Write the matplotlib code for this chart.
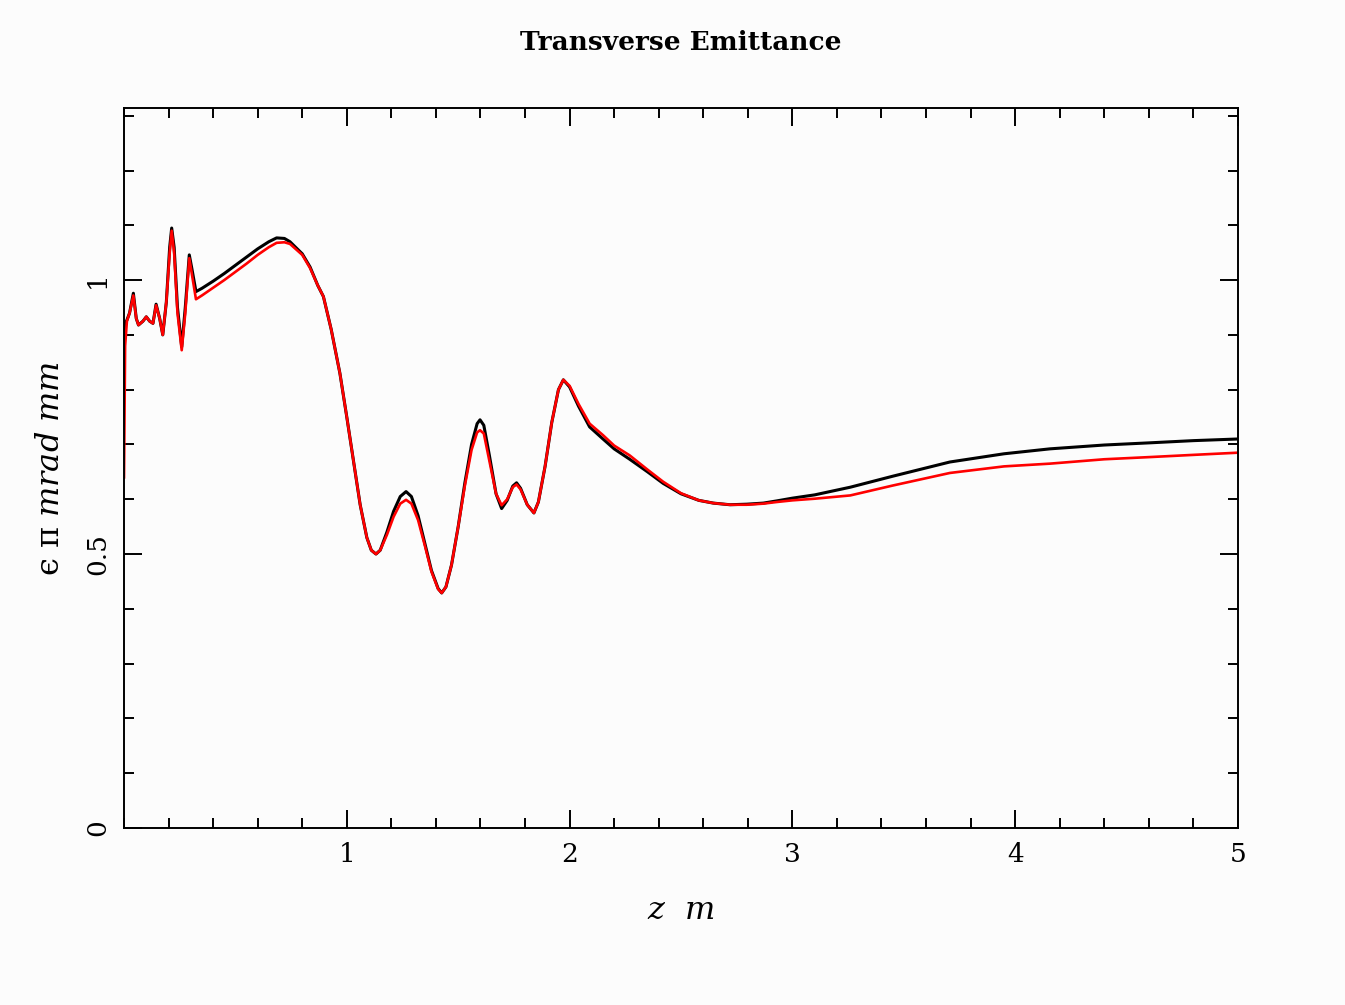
import matplotlib
matplotlib.use('Agg')
import matplotlib.pyplot as plt
from matplotlib.ticker import MultipleLocator

z = [0, 0.005, 0.013, 0.025, 0.042, 0.055, 0.065, 0.085, 0.1, 0.115, 0.13, 0.144,
     0.16, 0.174, 0.19, 0.205, 0.214, 0.225, 0.24, 0.259, 0.275, 0.293, 0.305, 0.323,
     0.35, 0.4, 0.45, 0.5, 0.55, 0.6, 0.65, 0.685, 0.72, 0.745, 0.8, 0.835, 0.87,
     0.895, 0.93, 0.969, 1.0, 1.03, 1.06, 1.09, 1.11, 1.131, 1.15, 1.18, 1.21, 1.24,
     1.266, 1.29, 1.32, 1.35, 1.38, 1.41, 1.426, 1.445, 1.47, 1.5, 1.53, 1.56, 1.585,
     1.598, 1.615, 1.64, 1.67, 1.695, 1.72, 1.745, 1.762, 1.78, 1.81, 1.84, 1.86,
     1.89, 1.92, 1.95, 1.972, 2.0, 2.04, 2.09, 2.15, 2.2, 2.27, 2.35, 2.42, 2.5,
     2.58, 2.645, 2.72, 2.795, 2.87, 2.93, 3.0, 3.1, 3.26, 3.45, 3.707, 3.95, 4.156,
     4.4, 4.605, 4.8, 5.0]

emit_black = [0.87, 0.92, 0.927, 0.94, 0.976, 0.93, 0.918, 0.925, 0.933, 0.925, 0.921,
              0.956, 0.93, 0.90, 0.96, 1.06, 1.095, 1.06, 0.95, 0.878, 0.95, 1.046,
              1.02, 0.979, 0.985, 0.998, 1.012, 1.027, 1.042, 1.057, 1.07, 1.077, 1.076,
              1.07, 1.048, 1.024, 0.99, 0.97, 0.91, 0.83, 0.75, 0.67, 0.59, 0.53, 0.507,
              0.5, 0.507, 0.54, 0.578, 0.605, 0.614, 0.605, 0.57, 0.52, 0.47, 0.437,
              0.429, 0.44, 0.48, 0.55, 0.63, 0.70, 0.738, 0.745, 0.735, 0.68, 0.61,
              0.583, 0.598, 0.624, 0.63, 0.62, 0.59, 0.575, 0.595, 0.66, 0.74, 0.80,
              0.818, 0.805, 0.77, 0.732, 0.71, 0.692, 0.673, 0.65, 0.629, 0.61, 0.598,
              0.593, 0.59, 0.591, 0.593, 0.597, 0.602, 0.608, 0.622, 0.642, 0.668,
              0.683, 0.692, 0.699, 0.703, 0.707, 0.71]

emit_red = [0.64, 0.88, 0.925, 0.94, 0.972, 0.93, 0.918, 0.925, 0.933, 0.925, 0.921,
            0.954, 0.93, 0.90, 0.96, 1.05, 1.09, 1.05, 0.94, 0.872, 0.94, 1.04,
            1.01, 0.965, 0.972, 0.986, 1.0, 1.015, 1.03, 1.046, 1.06, 1.068, 1.069,
            1.066, 1.046, 1.022, 0.99, 0.97, 0.91, 0.83, 0.75, 0.67, 0.59, 0.53, 0.507,
            0.5, 0.507, 0.535, 0.568, 0.592, 0.599, 0.592, 0.562, 0.516, 0.468, 0.436,
            0.429, 0.44, 0.48, 0.55, 0.625, 0.69, 0.722, 0.726, 0.72, 0.67, 0.61,
            0.589, 0.6, 0.622, 0.627, 0.618, 0.59, 0.575, 0.595, 0.66, 0.74, 0.80,
            0.818, 0.807, 0.774, 0.738, 0.717, 0.698, 0.68, 0.654, 0.632, 0.611, 0.598,
            0.593, 0.59, 0.59, 0.592, 0.595, 0.598, 0.601, 0.607, 0.625, 0.648,
            0.66, 0.665, 0.673, 0.677, 0.681, 0.685]

plt.rcParams['mathtext.fontset'] = 'dejavuserif'

bg = '#fcfcfc'
fig = plt.figure(figsize=(13.45, 10.05), dpi=100, facecolor=bg)
ax = fig.add_axes([0.0922, 0.1761, 0.8282, 0.7164], facecolor=bg)

ax.plot(z, emit_black, color='black', lw=2.2, solid_joinstyle='round')
ax.plot(z, emit_red, color='red', lw=1.9, solid_joinstyle='round')

ax.set_xlim(0, 5)
ax.set_ylim(0, 1.314)
ax.xaxis.set_minor_locator(MultipleLocator(0.2))
ax.yaxis.set_minor_locator(MultipleLocator(0.1))
ax.set_xticks([1, 2, 3, 4, 5])
ax.set_xticklabels(['1', '2', '3', '4', '5'])
ax.set_yticks([0, 0.5, 1])
ax.set_yticklabels(['0', '0.5', '1'], rotation=90, va='center')

ax.tick_params(which='both', direction='in', top=True, right=True, width=1.4,
               labelsize=19, colors='black')
ax.tick_params(which='major', length=13, pad=10)
ax.tick_params(which='minor', length=7)
for s in ax.spines.values():
    s.set_linewidth(1.4)
for lab in ax.get_xticklabels() + ax.get_yticklabels():
    lab.set_family('DejaVu Serif')

fig.text(0.506, 0.958, 'Transverse Emittance', ha='center', va='center',
         fontsize=19, family='DejaVu Serif', weight='bold')
ax.set_xlabel(r'$z\ \ m$', fontsize=23, labelpad=20)
ax.set_ylabel('\u03f5 \u03c0 $mrad\\ mm$', fontsize=23, labelpad=14,
              family='DejaVu Serif')

fig.savefig('out.png', dpi=100, facecolor=bg)
